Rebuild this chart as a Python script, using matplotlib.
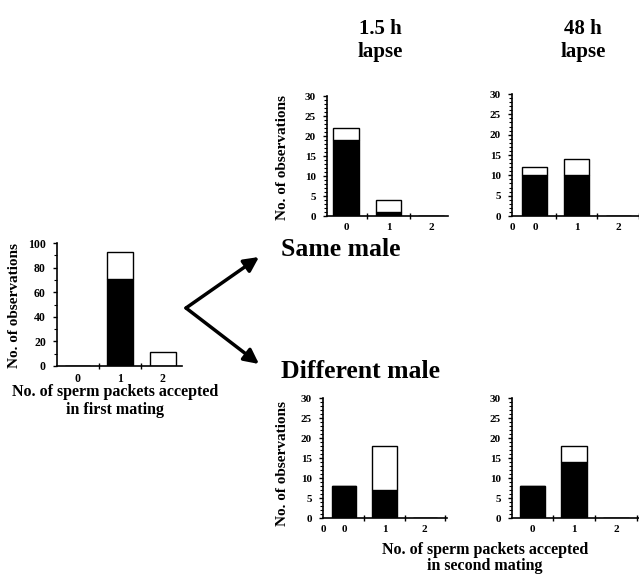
import matplotlib
matplotlib.use("Agg")
import matplotlib.pyplot as plt
from matplotlib.patches import FancyArrowPatch
from matplotlib.ticker import MultipleLocator, FixedLocator

plt.rcParams["font.family"] = ["Liberation Serif", "DejaVu Serif"]
plt.rcParams["font.weight"] = "bold"

# packets accepted (categories) and observation counts
categories = [0, 1, 2]

first_total = [0, 93, 11]
first_black = [0, 71, 0]

same_15h_total = [22, 4, 0]
same_15h_black = [19, 1, 0]
same_48h_total = [12, 14, 0]
same_48h_black = [10, 10, 0]

diff_15h_total = [8, 18, 0]
diff_15h_black = [8, 7, 0]
diff_48h_total = [8, 18, 0]
diff_48h_black = [8, 14, 0]

W, H = 639, 580
fig = plt.figure(figsize=(W / 100, H / 100), dpi=100)


def px_axes(x0, x1, y_top, y_bot):
    return fig.add_axes([x0 / W, 1 - y_bot / H, (x1 - x0) / W, (y_bot - y_top) / H])


def draw_panel(ax, total, black, ymax, major, minor, xlim, extra_zero=False):
    white = [t - b for t, b in zip(total, black)]
    ax.bar(categories, black, width=0.6, color="black", edgecolor="black", linewidth=1.0)
    ax.bar(categories, white, bottom=black, width=0.6, color="white",
           edgecolor="black", linewidth=1.0)
    ax.set_ylim(0, ymax)
    ax.set_xlim(*xlim)
    for s in ["top", "right"]:
        ax.spines[s].set_visible(False)
    for s in ["left", "bottom"]:
        ax.spines[s].set_linewidth(1.2)
    ax.yaxis.set_major_locator(MultipleLocator(major))
    ax.yaxis.set_minor_locator(MultipleLocator(minor))
    ax.tick_params(axis="y", which="major", direction="out", length=3, width=1, labelsize=8, pad=5)
    ax.tick_params(axis="y", which="minor", direction="out", length=2, width=0.8)
    if extra_zero:
        ax.set_xticks([xlim[0]] + categories)
        ax.set_xticklabels(["0", "0", "1", "2"])
    else:
        ax.set_xticks(categories)
        ax.set_xticklabels(["0", "1", "2"])
    ax.xaxis.set_minor_locator(FixedLocator([0.5, 1.5, 2.5]))
    ax.tick_params(axis="x", which="major", length=0, labelsize=8, pad=5)
    ax.tick_params(axis="x", which="minor", direction="inout", length=5, width=1)
    for lab in ax.get_xticklabels() + ax.get_yticklabels():
        lab.set_fontweight("bold")


# first mating
ax0 = px_axes(57, 182, 243, 366)
draw_panel(ax0, first_total, first_black, 100, 20, 10, (-0.48, 2.45))
ax0.tick_params(axis="y", labelsize=8.5)
ax0.tick_params(axis="x", labelsize=8.5)

# same male
ax1 = px_axes(327, 448, 96, 216)
draw_panel(ax1, same_15h_total, same_15h_black, 30, 5, 1, (-0.45, 2.4))
ax2 = px_axes(512, 639, 94, 216)
draw_panel(ax2, same_48h_total, same_48h_black, 30, 5, 1, (-0.55, 2.5), extra_zero=True)

# different male
ax3 = px_axes(323, 447, 398, 518)
draw_panel(ax3, diff_15h_total, diff_15h_black, 30, 5, 1, (-0.52, 2.55), extra_zero=True)
ax4 = px_axes(512, 639, 398, 518)
draw_panel(ax4, diff_48h_total, diff_48h_black, 30, 5, 1, (-0.48, 2.55))


def ftext(x, y, s, **kw):
    fig.text(x / W, 1 - y / H, s, fontweight="bold", **kw)


# y labels
ftext(15, 305, "No. of observations", rotation=90, ha="center", va="center", fontsize=11)
ftext(283, 158, "No. of observations", rotation=90, ha="center", va="center", fontsize=11)
ftext(283, 463, "No. of observations", rotation=90, ha="center", va="center", fontsize=11)

# x labels
ftext(115, 401, "No. of sperm packets accepted\nin first mating", ha="center", va="center",
      fontsize=11.5, linespacing=1.1)
ftext(485, 558, "No. of sperm packets accepted\nin second mating", ha="center", va="center",
      fontsize=11.5, linespacing=1.05)

# column titles
ftext(380, 40, "1.5 h\nlapse", ha="center", va="center", fontsize=15, linespacing=1.2)
ftext(583, 40, "48 h\nlapse", ha="center", va="center", fontsize=15, linespacing=1.2)

# row titles
ftext(281, 250, "Same male", ha="left", va="center", fontsize=18.5)
ftext(281, 372, "Different male", ha="left", va="center", fontsize=18.5)

# arrows
vertex = (186 / W, 1 - 308 / H)
for tip in [(259 / W, 1 - 257 / H), (259 / W, 1 - 364 / H)]:
    fig.add_artist(FancyArrowPatch(vertex, tip, transform=fig.transFigure,
                                   arrowstyle="-|>", mutation_scale=22,
                                   linewidth=2.5, color="black",
                                   shrinkA=0, shrinkB=0))

fig.savefig("out.png", dpi=100)
